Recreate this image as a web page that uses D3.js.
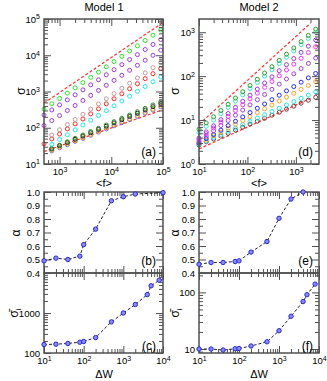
<!DOCTYPE html>
<html><head><meta charset="utf-8">
<script src="https://cdn.jsdelivr.net/npm/d3@7"></script>
<style>
body{margin:0;background:#fff}
svg{display:block;font-family:"Liberation Sans",Arial,sans-serif}
</style></head><body>
<svg width="327" height="381"></svg>
<script>
// panel (a): sigma vs <f>, model 1
const fA = [500, 707, 1000, 1414, 2000, 2828, 4000, 5657, 8000, 11314, 16000, 22627, 32000, 45255, 64000, 90510];
const aGreen   = [330, 461, 644, 900, 1260, 1760, 2460, 3430, 4800, 6700, 9350, 13100, 18200, 25500, 35700, 49800];
const aPurple1 = [225, 310, 427, 587, 809, 1110, 1530, 2110, 2900, 4000, 5510, 7590, 10400, 14400, 19800, 27200];
const aPurple2 = [115, 158, 217, 299, 411, 566, 780, 1070, 1480, 2030, 2790, 3850, 5280, 7280, 10000, 13800];
const aBrown   = [null, 63, 88, 122, 169, 235, 327, 454, 631, 877, 1220, 1690, 2360, 3270, 4550, 6310];
const aRed     = [36, 49, 67, 93, 128, 175, 242, 333, 457, 630, 865, 1190, 1640, 2260, 3100, 4270];
const aCyan    = [null, 35, 47.5, 64, 87.5, 119, 161, 219, 297, 403, 546, 741, 1010, 1370, 1850, 2510];
const aDkGreen = [null, 27, 33, 41, 51, 63, 78, 96, 119, 147, 182, 224, 277, 343, 424, 525];
const aBlack   = [null, 26, 32, 39, 48, 59, 73, 90, 110, 136, 166, 205, 251, 309, 380, 468];
const aOrange  = [null, 24, 29, 36, 44, 53, 65, 80, 98, 119, 146, 178, 218, 267, 326, 398];
const aBlue    = [null, 23, 28, 34, 42, 51, 62, 76, 93, 113, 138, 169, 206, 252, 308, 376];
const aLineF = [500, 100000];
const aLineTop = [480, 80000];
const aLineBot = [22, 316];

// panel (d): sigma vs <f>, model 2
const fD = [10, 14.1, 20, 28.3, 40, 56.6, 80, 113, 160, 226, 320, 453, 640, 905, 1280, 1810, 2560];
const dGreen   = [6.2, 8.6, 11.9, 16.5, 22.9, 31.8, 44.2, 61.4, 85.1, 118, 164, 228, 316, 440, 610, 847, 1175];
const dTurq    = [5.2, 7.2, 10.0, 13.9, 19.4, 26.9, 37.4, 52, 72.1, 100, 139, 194, 269, 373, 519, 721, 1000];
const dPurple  = [3.9, 5.4, 7.4, 10.2, 14.1, 19.4, 26.7, 36.8, 50.7, 70, 96.4, 133, 183, 252, 348, 480, 661];
const dMagenta = [3.6, 4.9, 6.6, 9.0, 12.1, 16.5, 22.3, 30.3, 41.0, 55.6, 75.3, 102, 138, 188, 255, 345, 468];
const dPurple2 = [3.3, 4.3, 5.7, 7.5, 9.8, 12.9, 16.9, 22.2, 29.1, 38.2, 50.1, 65.8, 86.3, 113, 149, 195, 257];
const dBlue    = [3.0, 3.8, 4.7, 5.9, 7.5, 9.4, 11.8, 14.8, 18.6, 23.3, 29.2, 36.7, 46.1, 57.9, 72.8, 91.4, 115];
const dOrange  = [2.9, 3.5, 4.4, 5.3, 6.5, 8.0, 9.8, 12.0, 14.8, 18.1, 22.1, 27.1, 33.3, 40.7, 49.9, 61.2, 75];
const dCyan    = [2.8, 3.3, 4.0, 4.7, 5.6, 6.6, 7.9, 9.3, 11.1, 13.2, 15.7, 18.6, 22.1, 26.3, 31.2, 37.1, 44];
const dMaroon  = [2.7, 3.2, 3.7, 4.3, 5.0, 5.9, 6.9, 8.1, 9.4, 11.0, 12.9, 15.1, 17.7, 20.7, 24.2, 28.3, 33];
const dLineF = [10, 2000];
const dLineTop = [8, 1600];
const dLineBot = [2.2, 31];

// panels (b),(e): alpha vs dW ; (c),(f): mean sigma vs dW
const dwB = [10, 20, 40, 80, 100, 200, 500, 1000, 2000, 10000];
const alphaB = [0.49, 0.51, 0.50, 0.525, 0.61, 0.725, 0.935, 0.965, 0.985, 0.995];
const dwE = [10, 20, 40, 80, 100, 200, 500, 1000, 2000, 4000];
const alphaE = [0.465, 0.478, 0.478, 0.485, 0.49, 0.555, 0.633, 0.805, 0.948, 1.0];
const dwC = [10, 20, 40, 80, 100, 200, 500, 1000, 2000, 4000, 5000, 8000];
const sigC = [163, 166, 173, 186, 194, 243, 600, 1000, 1630, 2880, 4790, 6600];
const sigF = [10, 10, 9.6, 10.1, 10.2, 11.3, 13.4, 21, 37.9, 68.8, 91, 140];

const alphaTicks = [0.4, 0.5, 0.6, 0.7, 0.8, 0.9, 1.0];
const alphaMinor = [0.45, 0.55, 0.65, 0.75, 0.85, 0.95];

const svg = d3.select("svg");
const frameCol = "#505050";

// scales
const L = [44, 163], R = [199, 319];
const xa = d3.scaleLog().domain([500, 1e5]).range(L);
const ya = d3.scaleLog().domain([10, 1e5]).range([164, 19]);
const xd = d3.scaleLog().domain([10, 3000]).range(R);
const yd = d3.scaleLog().domain([1, 2000]).range([164, 19]);
const xb = d3.scaleLog().domain([10, 1e4]).range(L);
const xe = d3.scaleLog().domain([10, 1e4]).range(R);
const yb = d3.scaleLinear().domain([0.4, 1.0]).range([273, 192]);
const ye = d3.scaleLinear().domain([0.4, 1.0]).range([273, 192]);
const yc = d3.scaleLog().domain([100, 1e4]).range([353, 273]);
const yf = d3.scaleLog().domain([8.5, 220]).range([353, 273]);

function logMajor(s) {
  const [a, b] = s.domain(), out = [];
  for (let e = Math.ceil(Math.log10(a) - 1e-9); Math.pow(10, e) <= b * 1.0001; e++) out.push(Math.pow(10, e));
  return out;
}
function logMinor(s) {
  const [a, b] = s.domain(), out = [];
  for (let e = Math.floor(Math.log10(a)); e <= Math.ceil(Math.log10(b)); e++)
    for (let m = 2; m <= 9; m++) { const v = m * Math.pow(10, e); if (v > a && v < b) out.push(v); }
  return out;
}
function pow10Label(sel) {
  sel.selectAll(".tick text").each(function(d) {
    const t = d3.select(this).text("");
    t.append("tspan").text("10");
    t.append("tspan").attr("dy", "-0.45em").attr("font-size", 7).text(Math.round(Math.log10(d)));
  });
}

// frame + mirrored inward ticks
function panel(x, y, o) {
  const g = svg.append("g");
  const [x0, x1] = x.range(), [y0, y1] = y.range();
  const xMaj = logMajor(x), xMin = logMinor(x);
  const yMaj = o.yLog ? logMajor(y) : o.yMaj;
  const yMin = o.yLog ? logMinor(y) : o.yMin;
  const put = (gen, tv, size, tr, fmt) => {
    const a = g.append("g").attr("transform", tr)
      .call(gen.tickValues(tv).tickSize(-size).tickSizeOuter(0).tickPadding(4).tickFormat(fmt || (() => "")));
    a.select(".domain").remove();
    a.selectAll("line").attr("stroke", frameCol);
    a.selectAll("text").attr("font-size", 9.5).attr("fill", "#000").attr("font-family", "Liberation Sans, Arial, sans-serif");
    return a;
  };
  const bx = put(d3.axisBottom(x), xMaj, 7, `translate(0,${y0})`, o.xLabels ? (d => "x") : null);
  if (o.xLabels) pow10Label(bx);
  put(d3.axisBottom(x), xMin, 4, `translate(0,${y0})`);
  put(d3.axisTop(x), xMaj, 7, `translate(0,${y1})`);
  put(d3.axisTop(x), xMin, 4, `translate(0,${y1})`);
  const ly = put(d3.axisLeft(y), yMaj, 7, `translate(${x0},0)`, o.yFmt || (d => "x"));
  if (o.yLog && !o.yFmt) pow10Label(ly);
  put(d3.axisLeft(y), yMin, 4, `translate(${x0},0)`);
  put(d3.axisRight(y), yMaj, 7, `translate(${x1},0)`);
  put(d3.axisRight(y), yMin, 4, `translate(${x1},0)`);
  g.append("rect").attr("x", x0).attr("y", y1).attr("width", x1 - x0).attr("height", y0 - y1)
    .attr("fill", "none").attr("stroke", frameCol).attr("stroke-width", 1.5);
  return g;
}

// dashed guide lines
function guide(x, y, fs, vs) {
  svg.append("path")
    .attr("d", d3.line().x((d, i) => x(fs[i])).y(d => y(d))(vs))
    .attr("fill", "none").attr("stroke", "#ff3333").attr("stroke-width", 1.2).attr("stroke-dasharray", "3,2");
}
function scatter(x, y, fs, vs, col) {
  svg.append("g").selectAll("circle")
    .data(vs.map((v, i) => [fs[i], v]).filter(d => d[1] != null))
    .enter().append("circle")
    .attr("cx", d => x(d[0])).attr("cy", d => y(d[1])).attr("r", 2)
    .attr("fill", "none").attr("stroke", col).attr("stroke-width", 1);
}
function curve(x, y, xs, vs) {
  svg.append("path")
    .attr("d", d3.line().x((d, i) => x(xs[i])).y(d => y(d))(vs))
    .attr("fill", "none").attr("stroke", "#222").attr("stroke-width", 1).attr("stroke-dasharray", "3,2");
  svg.append("g").selectAll("circle").data(vs).enter().append("circle")
    .attr("cx", (d, i) => x(xs[i])).attr("cy", d => y(d)).attr("r", 2.2)
    .attr("fill", "#8a8aff").attr("stroke", "#2a2ad0").attr("stroke-width", 1);
}

// panel (a)
guide(xa, ya, aLineF, aLineTop);
guide(xa, ya, aLineF, aLineBot);
[[aBlue, "#6a6aff"], [aOrange, "#e8a020"], [aBlack, "#222"], [aDkGreen, "#2e8b2e"], [aCyan, "#22e8e8"],
 [aRed, "#ff2a2a"], [aBrown, "#c49a9a"], [aPurple2, "#9a3de0"], [aPurple1, "#9a3de0"], [aGreen, "#2ee52e"]]
  .forEach(([v, c]) => scatter(xa, ya, fA, v, c));
panel(xa, ya, { yLog: true, xLabels: true });

// panel (d)
guide(xd, yd, dLineF, dLineTop);
guide(xd, yd, dLineF, dLineBot);
[[dMaroon, "#7a3a3a"], [dCyan, "#20e8e8"], [dOrange, "#ffa020"], [dBlue, "#2a2aff"], [dPurple2, "#a040e0"],
 [dMagenta, "#ff30ff"], [dPurple, "#9a3de0"], [dTurq, "#40e0d0"], [dGreen, "#2ca02c"]]
  .forEach(([v, c]) => scatter(xd, yd, fD, v, c));
panel(xd, yd, { yLog: true, xLabels: true });

// panels (b),(e)
const fmt1 = d3.format(".1f");
panel(xb, yb, { yLog: false, yMaj: alphaTicks, yMin: alphaMinor, yFmt: fmt1 });
panel(xe, ye, { yLog: false, yMaj: alphaTicks, yMin: alphaMinor, yFmt: fmt1 });
curve(xb, yb, dwB, alphaB);
curve(xe, ye, dwE, alphaE);

// panels (c),(f)
const yFmtC = d => (d === 100 || d === 1000) ? String(d) : "";
const yFmtF = d => (d === 10 || d === 100) ? String(d) : "";
panel(xb, yc, { yLog: true, xLabels: true, yFmt: yFmtC });
panel(xe, yf, { yLog: true, xLabels: true, yFmt: yFmtF });
curve(xb, yc, dwC, sigC);
curve(xe, yf, dwC, sigF);

// texts
const txt = (x, y, s, size, anchor) => svg.append("text").attr("x", x).attr("y", y)
  .attr("font-size", size).attr("text-anchor", anchor || "middle").text(s);
txt(104, 11, "Model 1", 11);
txt(259, 11, "Model 2", 11);
txt(104, 187, "<f>", 11);
txt(259, 187, "<f>", 11);
txt(104, 378, "\u0394W", 11);
txt(259, 378, "\u0394W", 11);
[["(a)", 156, 156], ["(d)", 313, 156], ["(b)", 156, 265], ["(e)", 313, 265], ["(c)", 156, 350], ["(f)", 313, 350]]
  .forEach(([s, x, y]) => txt(x, y, s, 12, "end"));

function vlabel(x, y, s, sub) {
  const t = svg.append("text").attr("transform", `translate(${x},${y}) rotate(-90)`)
    .attr("text-anchor", "middle").attr("font-size", 12);
  t.append("tspan").text(s);
  if (sub) t.append("tspan").attr("dy", 3).attr("font-size", 8).text(sub);
}
vlabel(25, 91, "\u03c3");
vlabel(179, 91, "\u03c3");
vlabel(20, 233, "\u03b1");
vlabel(179, 233, "\u03b1");
vlabel(18, 313, "\u03c3\u0304", "i");
vlabel(179, 313, "\u03c3\u0304", "i");
</script>
</body></html>
